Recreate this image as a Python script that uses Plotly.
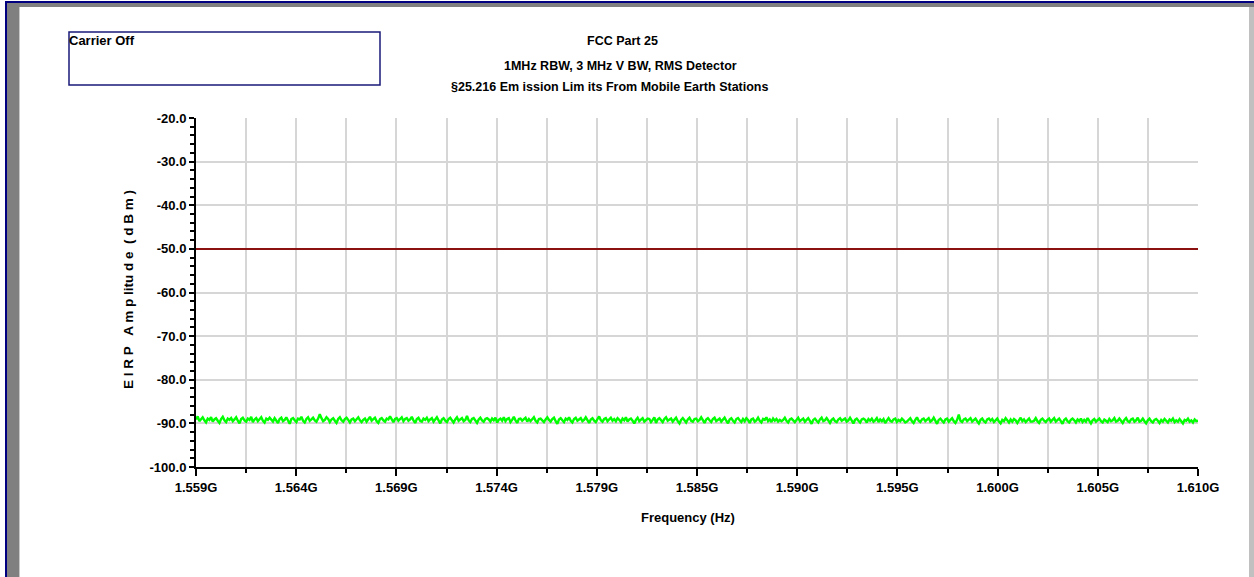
import numpy as np
import plotly.graph_objects as go

# ---------------- data ----------------
freq_start_hz = 1.559e9
freq_stop_hz = 1.610e9
x_tick_labels = ["1.559G", "1.564G", "1.569G", "1.574G", "1.579G", "1.585G",
                 "1.590G", "1.595G", "1.600G", "1.605G", "1.610G"]
y_tick_values = [-100, -90, -80, -70, -60, -50, -40, -30, -20]
y_tick_labels = ["-100.0", "-90.0", "-80.0", "-70.0", "-60.0", "-50.0", "-40.0", "-30.0", "-20.0"]
limit_dbm = [-50.0, -50.0]

trace_dbm = [
    -89.1, -88.4, -89.5, -89.0, -88.6, -89.3, -89.8, -88.9, -89.2, -88.6, -89.6, -89.1, -88.8, -89.4, -89.9, -89.0, -88.5, -89.3, -89.7, -88.9, -89.2, -88.8, -89.5, -89.1, -88.6,
    -89.4, -90.0, -89.0, -88.7, -89.3, -89.6, -88.9, -89.2, -88.5, -89.7, -89.1, -88.8, -89.5, -89.0, -88.6, -89.4, -89.8, -88.9, -89.2, -88.7, -89.1, -89.6, -88.8, -89.3, -89.9,
    -89.0, -88.7, -89.5, -89.2, -88.6, -89.4, -90.1, -89.0, -88.8, -89.3, -89.7, -88.9, -89.1, -88.5, -89.4, -89.8, -89.0, -88.6, -89.4, -89.1, -88.7, -89.3, -89.6, -88.9, -87.9,
    -88.8, -89.5, -89.2, -88.6, -89.0, -89.7, -89.1, -88.8, -89.4, -89.9, -89.0, -88.6, -89.3, -89.6, -89.0, -88.7, -89.2, -89.8, -89.1, -88.9, -89.5, -89.0, -88.6, -89.3, -89.7,
    -89.2, -88.9, -89.6, -89.0, -88.5, -89.4, -89.1, -88.7, -89.5, -89.9, -89.0, -88.8, -89.3, -89.6, -88.9, -89.1, -88.4, -89.2, -89.7, -89.0, -88.8, -89.4, -89.1, -88.6, -89.5,
    -89.0, -88.8, -89.4, -89.1, -88.5, -89.3, -89.9, -89.0, -88.7, -89.4, -89.6, -88.9, -89.2, -88.7, -89.5, -89.1, -88.8, -89.6, -89.2, -88.6, -89.3, -90.0, -89.1, -88.8, -89.4,
    -89.7, -89.0, -88.7, -89.3, -89.8, -89.1, -88.6, -89.4, -89.0, -88.8, -89.5, -89.2, -88.3, -89.3, -89.7, -89.0, -88.8, -89.4, -89.9, -89.1, -88.7, -89.3, -89.6, -89.0, -88.8,
    -89.1, -89.6, -88.9, -89.3, -88.7, -89.8, -89.2, -88.9, -89.4, -88.6, -89.5, -89.0, -88.8, -89.7, -89.2, -88.5, -89.3, -89.9, -89.0, -88.9, -89.4, -89.1, -88.7, -89.6, -89.0,
    -89.5, -89.1, -88.6, -89.4, -89.8, -89.0, -88.9, -89.3, -89.7, -89.1, -88.6, -89.2, -89.6, -89.0, -88.7, -89.5, -90.1, -89.1, -88.8, -89.3, -89.7, -88.9, -89.2, -88.6, -89.4,
    -89.8, -89.0, -88.7, -89.4, -89.1, -88.8, -89.5, -89.2, -88.6, -89.3, -89.9, -89.1, -88.8, -89.4, -89.7, -89.0, -88.4, -89.3, -89.6, -89.0, -88.8, -89.5, -89.1, -88.7, -89.4,
    -89.0, -89.5, -88.8, -89.2, -89.7, -88.9, -89.3, -88.6, -89.6, -89.1, -88.9, -89.4, -90.0, -89.2, -88.7, -89.5, -89.1, -88.8, -89.6, -89.3, -88.9, -89.0, -89.7, -89.2, -88.6,
    -89.9, -89.1, -88.8, -89.3, -89.7, -89.0, -88.6, -89.4, -89.2, -88.9, -89.6, -89.1, -88.7, -89.5, -90.0, -89.2, -88.8, -89.3, -89.8, -89.1, -88.7, -89.4, -89.6, -89.0, -88.9,
    -89.5, -89.2, -88.6, -89.4, -89.9, -89.1, -88.8, -89.3, -89.7, -89.0, -88.7, -89.5, -89.1, -88.9, -89.6, -89.2, -88.7, -89.4, -90.0, -89.1, -88.8, -89.4, -89.8, -89.0, -88.8,
    -89.3, -89.7, -89.0, -89.5, -88.8, -89.2, -89.9, -89.1, -88.9, -89.6, -89.3, -88.7, -89.4, -89.8, -89.0, -89.2, -88.6, -89.5, -89.1, -89.7, -88.9, -89.4, -89.0, -89.6, -89.2,
    -89.5, -89.2, -88.7, -89.4, -89.8, -89.1, -88.9, -89.3, -89.7, -89.2, -88.7, -89.5, -89.1, -88.9, -89.6, -89.3, -88.8, -89.4, -90.1, -89.2, -88.9, -89.4, -89.8, -89.1, -88.7,
    -89.5, -89.3, -88.8, -89.4, -89.9, -89.2, -88.9, -89.5, -89.7, -89.1, -88.8, -89.4, -89.2, -88.9, -89.6, -89.3, -88.7, -89.5, -90.0, -89.2, -88.9, -89.4, -89.8, -89.1, -88.9,
    -89.2, -89.8, -89.0, -89.4, -88.9, -89.6, -89.3, -88.8, -89.7, -89.1, -89.5, -89.0, -89.9, -89.3, -88.8, -89.4, -89.6, -89.1, -88.9, -89.7, -89.2, -89.5, -88.9, -89.3, -89.8,
    -89.6, -89.3, -88.8, -89.5, -89.9, -89.2, -88.6, -89.4, -89.7, -89.1, -88.9, -89.5, -89.2, -88.8, -89.6, -89.3, -88.7, -89.5, -90.1, -89.2, -88.9, -89.4, -89.8, -89.1, -88.9,
    -89.6, -89.3, -88.8, -89.5, -89.9, -89.2, -88.0, -89.4, -89.7, -89.1, -88.9, -89.5, -89.2, -88.8, -89.6, -89.3, -88.9, -89.5, -90.0, -89.2, -88.9, -89.5, -89.8, -89.1, -88.9,
    -89.4, -89.0, -89.7, -89.3, -88.9, -89.6, -90.0, -89.2, -89.5, -88.8, -89.4, -89.8, -89.1, -89.6, -89.0, -89.3, -89.9, -89.2, -88.7, -89.5, -89.1, -89.7, -89.3, -88.9, -89.6,
    -89.6, -89.4, -88.8, -89.5, -89.9, -89.2, -88.9, -89.4, -89.7, -89.2, -88.9, -89.6, -89.3, -88.8, -89.6, -89.3, -88.9, -89.5, -90.1, -89.2, -88.9, -89.5, -89.8, -89.2, -88.9,
    -89.3, -89.8, -89.1, -89.5, -88.9, -89.7, -89.2, -89.6, -88.8, -89.4, -90.0, -89.3, -89.0, -89.6, -89.2, -88.9, -89.5, -89.8, -89.1, -89.4, -89.7, -89.0, -89.5, -89.3, -88.8,
    -89.6, -89.4, -88.9, -89.5, -89.9, -89.2, -88.8, -89.5, -89.7, -89.1, -88.9, -89.6, -89.3, -88.7, -89.6, -89.4, -88.9, -89.5, -90.0, -89.3, -88.9, -89.5, -89.8, -89.2, -89.0,
    -89.4, -89.9, -89.2, -89.6, -89.0, -89.5, -89.8, -89.1, -89.4, -88.9, -89.7, -89.3, -89.6, -89.0, -89.5, -90.0, -89.2, -89.4, -88.9, -89.6, -89.3, -89.8, -89.1, -89.5, -89.4,
]

# ---------------- geometry ----------------
W, H = 1254, 577
L, R, T, B = 196, 1198, 118, 467


def px(x):
    return (x - L) / (R - L)


def py(y):
    return (B - y) / (B - T)


FONT = "Liberation Sans, Arial, sans-serif"

freq = np.linspace(freq_start_hz, freq_stop_hz, len(trace_dbm))
tickvals = np.linspace(freq_start_hz, freq_stop_hz, len(x_tick_labels))
minor_vals = (tickvals[:-1] + tickvals[1:]) / 2

fig = go.Figure()
fig.add_trace(go.Scatter(x=[freq_start_hz, freq_stop_hz], y=limit_dbm, mode="lines",
                         line=dict(color="#8B1010", width=2), showlegend=False))
fig.add_trace(go.Scatter(x=freq, y=trace_dbm, mode="lines",
                         line=dict(color="#00FF00", width=2.4), showlegend=False))

grid_col = "#D6D6D6"
tick_font = dict(family=FONT, size=13, color="black", weight="bold")
fig.update_xaxes(range=[freq_start_hz, freq_stop_hz], tickmode="array", tickvals=tickvals,
                 ticktext=x_tick_labels, showgrid=True, gridcolor=grid_col, gridwidth=2,
                 showline=True, linecolor="black", linewidth=2, ticks="outside", ticklen=7,
                 tickwidth=1.5, tickcolor="black", zeroline=False, tickfont=tick_font,
                 minor=dict(tickvals=minor_vals, ticks="outside", ticklen=4, tickwidth=1.5,
                            tickcolor="black", showgrid=True, gridcolor=grid_col, gridwidth=2))
fig.update_yaxes(range=[-100, -20], tickmode="array", tickvals=y_tick_values,
                 ticktext=y_tick_labels,
                 showgrid=True, gridcolor=grid_col, gridwidth=2, zeroline=False,
                 showline=True, linecolor="black", linewidth=2, ticks="outside", ticklen=5,
                 tickwidth=1.5, tickcolor="black", tickfont=tick_font,
                 minor=dict(dtick=2, tick0=-100, ticks="outside", ticklen=4, tickwidth=1.5,
                            tickcolor="black", showgrid=False))


def band(x0, x1, y0, y1, color):
    return dict(type="rect", xref="paper", yref="paper", x0=px(x0), x1=px(x1),
                y0=py(y1), y1=py(y0), fillcolor=color, line=dict(width=0), layer="above")


shapes = [
    # page frame
    band(6, W, 3, 7, "#808080"),
    band(6, W, 1, 3, "#000080"),
    band(7, 19, 3, H, "#808080"),
    band(19, 20, 7, H, "#C8C8C8"),
    band(5, 7, 1, H, "#000080"),
    band(1249, W, 7, H, "#C0C0C0"),
    # note box
    dict(type="rect", xref="paper", yref="paper", x0=px(69), x1=px(380), y0=py(85), y1=py(32),
         line=dict(color="#1A1A7A", width=1.5), fillcolor="rgba(0,0,0,0)"),
]

title_font = dict(family=FONT, size=12.5, color="black")
annotations = [
    dict(text="<b>Carrier Off</b>", xref="paper", yref="paper", x=px(67), y=py(31),
         xanchor="left", yanchor="top", showarrow=False,
         font=dict(family=FONT, size=13, color="black")),
    dict(text="<b>FCC Part 25</b>", xref="paper", yref="paper", x=px(622), y=py(41),
         xanchor="center", yanchor="middle", showarrow=False, font=title_font),
    dict(text="<b>1MHz RBW, 3 MHz V BW, RMS Detector</b>", xref="paper", yref="paper",
         x=px(620), y=py(66), xanchor="center", yanchor="middle", showarrow=False,
         font=title_font),
    dict(text="<b>§25.216 Em ission Lim its From Mobile Earth Stations</b>", xref="paper",
         yref="paper", x=px(609), y=py(87), xanchor="center", yanchor="middle", showarrow=False,
         font=title_font),
    dict(text="<b>Frequency (Hz)</b>", xref="paper", yref="paper", x=px(688), y=py(517),
         xanchor="center", yanchor="middle", showarrow=False,
         font=dict(family=FONT, size=13, color="black")),
    dict(text="<b>E I R P   A m p litu d e  ( d B m )</b>", xref="paper", yref="paper",
         x=px(128), y=py(290), xanchor="center", yanchor="middle", textangle=-90,
         showarrow=False, font=dict(family=FONT, size=13.5, color="black")),
]

fig.update_layout(width=W, height=H, margin=dict(l=L, r=W - R, t=T, b=H - B, pad=0),
                  paper_bgcolor="white", plot_bgcolor="white", shapes=shapes,
                  annotations=annotations, showlegend=False)

fig.write_html("out.html", config={"displayModeBar": False},
               post_script="document.body.style.margin='0';")
